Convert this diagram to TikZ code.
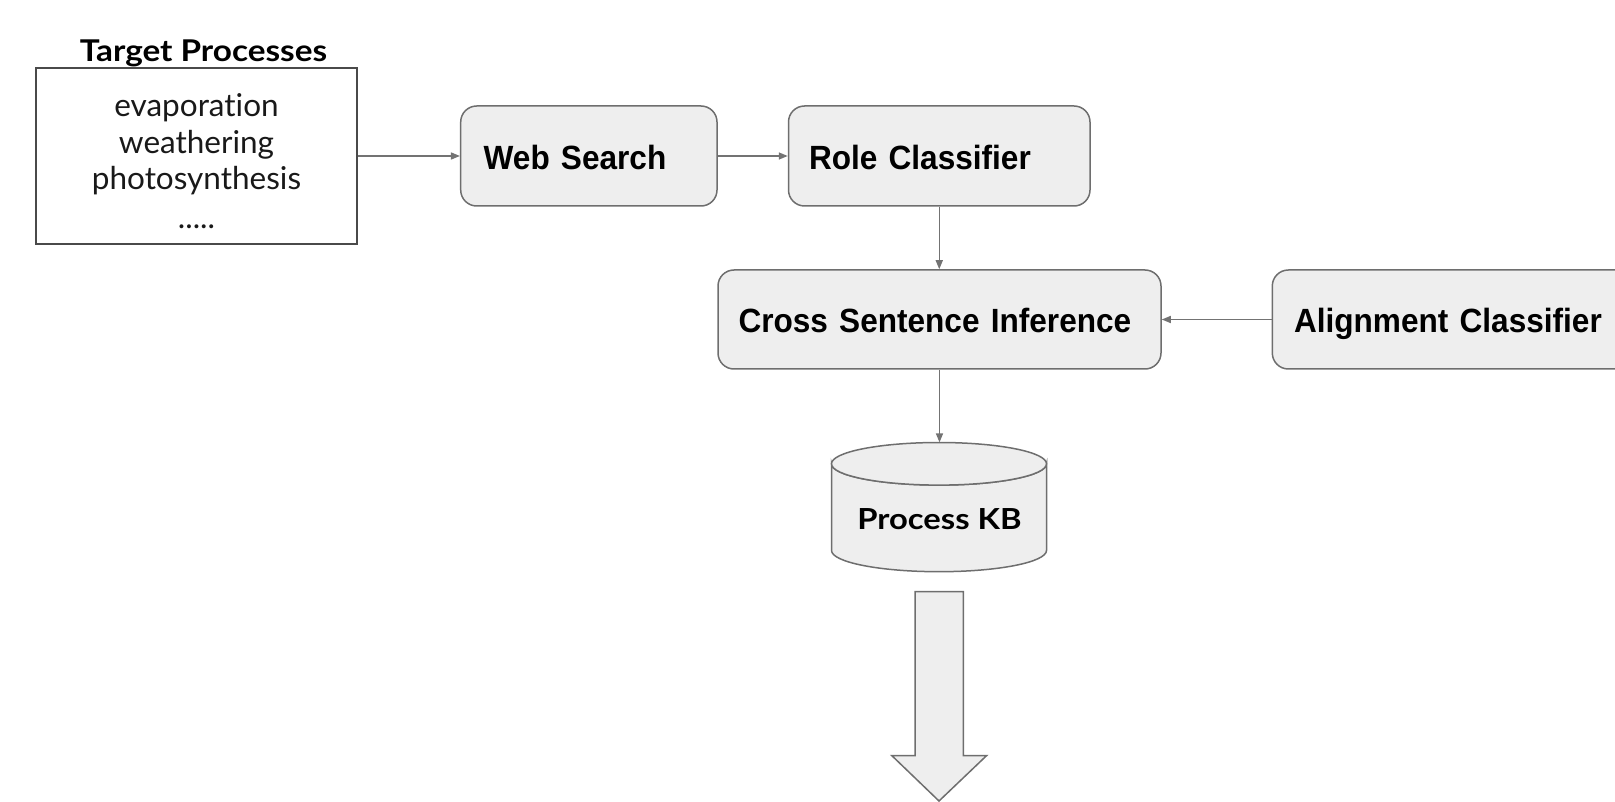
\documentclass[tikz,border=0pt]{standalone}
\usepackage{fontspec}
\setmainfont{Liberation Sans}
\newfontfamily\boxfont[FakeStretch=0.94]{Liberation Sans}
\newfontfamily\lato[Ligatures=NoCommon]{Lato}
\usetikzlibrary{arrows.meta}
\definecolor{boxfill}{HTML}{EEEEEE}
\definecolor{boxline}{HTML}{6E6E6E}
\definecolor{connc}{HTML}{737373}
\definecolor{tline}{HTML}{4A4A4A}
\begin{document}
\begin{tikzpicture}[x=1pt,y=-1pt,
  proc/.style={draw=boxline, fill=boxfill, line width=1.5pt, rounded corners=16pt,
    minimum height=100pt, inner ysep=2pt, align=left, text height=26.5pt, text depth=0pt,
    font=\boxfont\bfseries\fontsize{33.6}{38}\selectfont, text=black},
  conn/.style={draw=connc, line width=1.5pt, -{Triangle[length=9pt,width=7pt]}},
  plain/.style={font=\lato\fontsize{31.5}{36}\selectfont, text=black!90, inner sep=0pt, anchor=base},
  cyl/.style={draw=boxline, fill=boxfill, line width=1.5pt},
  bigarrow/.style={draw=boxline, fill=boxfill, line width=1.5pt, line join=miter}
]
\useasboundingbox (0,0) rectangle (1615,802);
\clip (0,0) rectangle (1615,802);

% target processes box
\node[draw=tline, line width=1.5pt, minimum width=321pt, minimum height=176pt, inner sep=0pt] (target) at (196.5,156) {};
\node[font=\lato\bfseries\fontsize{30}{36}\selectfont, inner sep=0pt, anchor=base] (title) at (203.5,61.7) {\scalebox{1.11}[1]{Target Processes}};
\node[plain] (t1) at (196.5,117) {evaporation};
\node[plain] (t2) at (196.5,153.5) {weathering};
\node[plain] (t3) at (196.5,190) {photosynthesis};
\node[plain] (t4) at (196.5,228.5) {.....};

% process boxes
\node[proc, inner xsep=23pt, text width=210.3pt] (web) at (588.85,156) {Web Search};
\node[proc, inner xsep=20.5pt, text width=260.5pt] (role) at (939.25,156) {Role Classifier};
\node[proc, inner xsep=20.5pt, text width=402pt, minimum height=99pt] (cross) at (939.5,319.5) {Cross Sentence Inference};
\node[proc, inner xsep=21.7pt, text width=384.6pt, minimum height=99pt] (align) at (1486.3,319.5) {Alignment Classifier};

% cylinder
\node[minimum width=215pt, minimum height=129pt, inner sep=0pt] (kb) at (939,507.1) {};
\filldraw[cyl] (831.5,463.8) -- (831.5,550.4)
  arc[start angle=180, end angle=0, x radius=107.5, y radius=21.3]
  -- (1046.5,463.8)
  arc[start angle=0, end angle=180, x radius=107.5, y radius=21.3] -- cycle;
\filldraw[cyl] (939,463.8) ellipse[x radius=107.5, y radius=21.3];
\node[font=\lato\bfseries\fontsize{29}{34}\selectfont, inner sep=0pt, anchor=base] (kbtext) at (939.5,529) {\scalebox{1.13}[1]{Process KB}};

% big output arrow
\filldraw[bigarrow] (915,591.5) -- (963.3,591.5) -- (963.3,755.5) -- (986.7,755.5)
  -- (939,801) -- (891.7,755.5) -- (915,755.5) -- cycle;

% connectors
\draw[conn] (target.east) -- (web.west);
\draw[conn] (web.east) -- (role.west);
\draw[conn] (role.south) -- (role.south |- cross.north);
\draw[conn] (align.west) -- (cross.east);
\draw[conn] (cross.south) -- (cross.south |- kb.north);
\end{tikzpicture}
\end{document}
